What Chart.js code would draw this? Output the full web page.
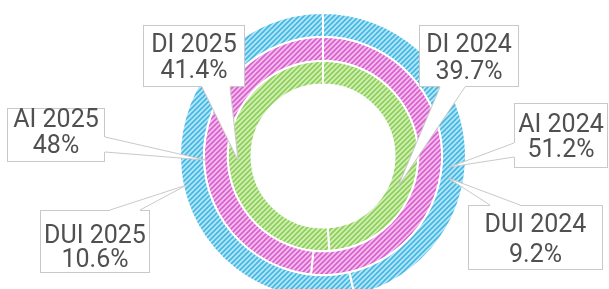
<!DOCTYPE html>
<html>
<head>
<meta charset="utf-8">
<script src="https://cdn.jsdelivr.net/npm/chart.js@4/dist/chart.umd.min.js"></script>
<style>
  html, body { margin: 0; padding: 0; background: #ffffff; overflow: hidden; }
  #wrap { position: relative; width: 609px; height: 312px; }
</style>
</head>
<body>
<div id="wrap"><canvas id="c"></canvas></div>
<script>
// ---- data ----
const categories = ['DUI', 'AI', 'DI'];
const years = ['2024', '2025'];
const duiValues = [9.2, 10.6];
const aiValues = [51.2, 48];
const diValues = [39.7, 41.4];

// ---- styles ----
function hatch(base, stripe) {
  const s = 5;
  const c = document.createElement('canvas');
  c.width = s; c.height = s;
  const g = c.getContext('2d');
  g.fillStyle = base; g.fillRect(0, 0, s, s);
  g.strokeStyle = stripe; g.lineWidth = 1.7;
  g.beginPath();
  g.moveTo(0, s); g.lineTo(s, 0);
  g.moveTo(-1, 1); g.lineTo(1, -1);
  g.moveTo(s - 1, s + 1); g.lineTo(s + 1, s - 1);
  g.stroke();
  return g.createPattern(c, 'repeat');
}
const ctx = document.getElementById('c').getContext('2d');
const blueFill = hatch('#b4e6f7', '#45b8e2');
const pinkFill = hatch('#f5bdef', '#d862cc');
const greenFill = hatch('#d3efb3', '#8ccf5c');

// callout layout (positions only; text comes from the data arrays)
const callouts = [
  { ds: 2, seg: 1, box: [143, 25, 245, 87], side: 'bottom', base: [202, 230], tip: [267, 85], text: [52, 78] },
  { ds: 2, seg: 0, box: [419, 25, 519, 87], side: 'bottom', base: [440, 465], tip: [112, 81], text: [52, 79] },
  { ds: 1, seg: 1, box: [7, 108, 105, 162], side: 'right', base: [137, 152], tip: [268, 117], text: [127, 153] },
  { ds: 1, seg: 0, box: [514, 103, 608, 168], side: 'left', base: [143, 157], tip: [95, 127], text: [132, 157] },
  { ds: 0, seg: 1, box: [40, 210, 150, 273], side: 'top', base: [110, 140], tip: [258, 139], text: [243, 267] },
  { ds: 0, seg: 0, box: [468, 205, 603, 270], side: 'top', base: [490, 520], tip: [100, 127], text: [232, 262] }
];

const calloutPlugin = {
  id: 'callouts',
  afterDatasetsDraw(chart) {
    const g = chart.ctx;
    const arc0 = chart.getDatasetMeta(0).data[0];
    const cx = arc0.x, cy = arc0.y;
    callouts.forEach(co => {
      const ds = chart.data.datasets[co.ds];
      const label = ds.label + ' ' + years[co.seg];
      const val = ds.data[co.seg] + '%';
      const [x1, y1, x2, y2] = co.box;
      const a = co.tip[0] * Math.PI / 180;
      const tx = cx + co.tip[1] * Math.sin(a);
      const ty = cy - co.tip[1] * Math.cos(a);
      let p1, p2, q1, q2;
      if (co.side === 'bottom') { p1 = [co.base[0], y2]; p2 = [co.base[1], y2]; q1 = [co.base[0], y2 - 2]; q2 = [co.base[1], y2 - 2]; }
      if (co.side === 'top') { p1 = [co.base[0], y1]; p2 = [co.base[1], y1]; q1 = [co.base[0], y1 + 2]; q2 = [co.base[1], y1 + 2]; }
      if (co.side === 'right') { p1 = [x2, co.base[0]]; p2 = [x2, co.base[1]]; q1 = [x2 - 2, co.base[0]]; q2 = [x2 - 2, co.base[1]]; }
      if (co.side === 'left') { p1 = [x1, co.base[0]]; p2 = [x1, co.base[1]]; q1 = [x1 + 2, co.base[0]]; q2 = [x1 + 2, co.base[1]]; }
      g.save();
      g.lineWidth = 1;
      g.strokeStyle = '#c9c9c9';
      g.fillStyle = '#ffffff';
      g.fillRect(x1, y1, x2 - x1, y2 - y1);
      g.strokeRect(x1 + 0.5, y1 + 0.5, x2 - x1 - 1, y2 - y1 - 1);
      // tail
      g.beginPath();
      g.moveTo(q1[0], q1[1]); g.lineTo(p1[0], p1[1]); g.lineTo(tx, ty); g.lineTo(p2[0], p2[1]); g.lineTo(q2[0], q2[1]);
      g.closePath();
      g.fill();
      g.beginPath();
      g.moveTo(p1[0], p1[1]); g.lineTo(tx, ty); g.lineTo(p2[0], p2[1]);
      g.stroke();
      // text
      g.fillStyle = '#505050';
      g.font = '25px Roboto, "Liberation Sans", sans-serif';
      g.textAlign = 'center';
      g.textBaseline = 'alphabetic';
      const mx = (x1 + x2) / 2;
      g.fillText(label, mx, co.text[0]);
      g.fillText(val, mx, co.text[1]);
      g.restore();
    });
  }
};

new Chart(ctx, {
  type: 'doughnut',
  data: {
    labels: years,
    datasets: [
      { label: categories[0], data: duiValues, backgroundColor: [blueFill, blueFill] },
      { label: categories[1], data: aiValues, backgroundColor: [pinkFill, pinkFill] },
      { label: categories[2], data: diValues, backgroundColor: [greenFill, greenFill] }
    ]
  },
  options: {
    responsive: true,
    maintainAspectRatio: false,
    animation: false,
    radius: 143,
    cutout: 71,
    rotation: 0,
    layout: { padding: { left: 37, right: 0, top: 13, bottom: 13 } },
    elements: { arc: { borderColor: '#ffffff', borderWidth: 2 } },
    plugins: { legend: { display: false }, tooltip: { enabled: false } },
    events: []
  },
  plugins: [calloutPlugin]
});
</script>
</body>
</html>
